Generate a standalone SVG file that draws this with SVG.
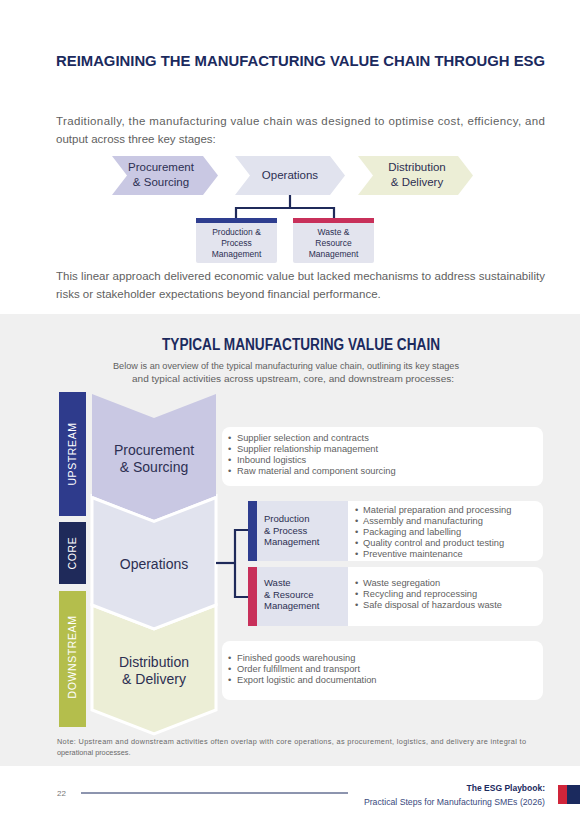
<svg xmlns="http://www.w3.org/2000/svg" width="580" height="820" viewBox="0 0 580 820">
<style>
text{font-family:"Liberation Sans",Arial,sans-serif}
.h1{font-size:15px;font-weight:bold;fill:#1b2a5e}
.body{font-size:11.5px;fill:#5f5f5f}
.chev{font-size:11.5px;fill:#2c2f52;text-anchor:middle}
.small{font-size:8.5px;fill:#2c2f52;text-anchor:middle}
.big{font-size:14px;fill:#2c2f52;text-anchor:middle}
.vert{font-size:10.5px;fill:#ffffff;text-anchor:middle;letter-spacing:0.6px}
.bul{font-size:9.3px;fill:#5f5f5f}
.lab{font-size:9.5px;fill:#2c2f52}
.sub{font-size:9.2px;fill:#5f5f5f;text-anchor:middle}
.note{font-size:7.3px;fill:#6a6a6a}
.conn{fill:none;stroke:#1f2a5a;stroke-width:2.2}
.proc{fill:#c9c8e3}
.ops{fill:#e1e3ee}
.dist{fill:#eceed6}
</style>
<rect width="580" height="820" fill="#ffffff"/>
<text class="h1" x="56" y="66" textLength="489" lengthAdjust="spacingAndGlyphs">REIMAGINING THE MANUFACTURING VALUE CHAIN THROUGH ESG</text>
<text class="body" x="56" y="125" textLength="489" lengthAdjust="spacing">Traditionally, the manufacturing value chain was designed to optimise cost, efficiency, and</text>
<text class="body" x="56" y="143">output across three key stages:</text>

<g id="top-procurement">
<polygon class="proc" points="112,156 203,156 218,175.5 203,195 112,195 127,175.5"/>
<text class="chev" x="161" y="171">Procurement</text>
<text class="chev" x="161" y="186">&amp; Sourcing</text>
</g>
<g id="top-operations">
<polygon class="ops" points="235,156 330,156 345,175.5 330,195 235,195 250,175.5"/>
<text class="chev" x="290" y="179">Operations</text>
</g>
<g id="top-distribution">
<polygon class="dist" points="358,156 458,156 473,175.5 458,195 358,195 373,175.5"/>
<text class="chev" x="417" y="171">Distribution</text>
<text class="chev" x="417" y="186">&amp; Delivery</text>
</g>
<g id="top-production">
<rect x="196" y="218" width="81" height="45" rx="2" fill="#e3e4ee"/>
<rect x="196" y="218" width="81" height="5" fill="#2e3d8f"/>
<text class="small" x="236.5" y="235">Production &amp;</text>
<text class="small" x="236.5" y="246">Process</text>
<text class="small" x="236.5" y="257">Management</text>
</g>
<g id="top-waste">
<rect x="293" y="218" width="81" height="45" rx="2" fill="#e3e4ee"/>
<rect x="293" y="218" width="81" height="5" fill="#c8305a"/>
<text class="small" x="333.5" y="235">Waste &amp;</text>
<text class="small" x="333.5" y="246">Resource</text>
<text class="small" x="333.5" y="257">Management</text>
</g>

<text class="body" x="56" y="280" textLength="489" lengthAdjust="spacing">This linear approach delivered economic value but lacked mechanisms to address sustainability</text>
<text class="body" x="56" y="298">risks or stakeholder expectations beyond financial performance.</text>

<rect x="0" y="314" width="580" height="452" fill="#f0f0f0"/>
<text class="h1" x="162" y="350" textLength="278" lengthAdjust="spacingAndGlyphs" style="font-size:16px">TYPICAL MANUFACTURING VALUE CHAIN</text>
<text class="sub" x="286" y="369" textLength="346" lengthAdjust="spacingAndGlyphs">Below is an overview of the typical manufacturing value chain, outlining its key stages</text>
<text class="sub" x="293" y="382" textLength="322" lengthAdjust="spacingAndGlyphs">and typical activities across upstream, core, and downstream processes:</text>

<g id="bar-upstream">
<rect x="59" y="392" width="27" height="124" fill="#2e3b8c"/>
<text class="vert" transform="translate(76,454) rotate(-90)">UPSTREAM</text>
</g>
<g id="bar-core">
<rect x="59" y="522" width="27" height="62" fill="#1f2a5a"/>
<text class="vert" transform="translate(76,553) rotate(-90)">CORE</text>
</g>
<g id="bar-downstream">
<rect x="59" y="591" width="27" height="136" fill="#b4be4c"/>
<text class="vert" transform="translate(76,657) rotate(-90)">DOWNSTREAM</text>
</g>

<g id="distribution">
<polygon class="dist" stroke="#ffffff" stroke-width="3" points="92,605 154,629 216,605 216,710 154,734 92,710"/>
<text class="big" x="154" y="667">Distribution</text>
<text class="big" x="154" y="684">&amp; Delivery</text>
</g>
<g id="operations">
<polygon class="ops" stroke="#ffffff" stroke-width="3" points="92,496 154,520 216,496 216,605 154,629 92,605"/>
<text class="big" x="154" y="569">Operations</text>
</g>
<g id="procurement">
<polygon class="proc" points="92,394 154,418 216,394 216,496 154,520 92,496"/>
<polyline fill="none" stroke="#ffffff" stroke-width="3" points="92,497.5 154,521.5 216,497.5"/>
<text class="big" x="154" y="455">Procurement</text>
<text class="big" x="154" y="472">&amp; Sourcing</text>
</g>

<g id="procurement-activities">
<rect x="222" y="427" width="321" height="59" rx="8" fill="#ffffff"/>
<text class="bul"><tspan x="228" y="441">•</tspan><tspan x="237" y="441">Supplier selection and contracts</tspan><tspan x="228" y="452">•</tspan><tspan x="237" y="452">Supplier relationship management</tspan><tspan x="228" y="463">•</tspan><tspan x="237" y="463">Inbound logistics</tspan><tspan x="228" y="474">•</tspan><tspan x="237" y="474">Raw material and component sourcing</tspan></text>
</g>

<g id="production">
<rect x="340" y="501" width="203" height="60" rx="8" fill="#ffffff"/>
<rect x="257" y="501" width="91" height="60" fill="#e1e3ee"/>
<rect x="248" y="501" width="9" height="60" fill="#2e3d8f"/>
<text class="lab"><tspan x="264" y="522">Production</tspan><tspan x="264" y="533.5">&amp; Process</tspan><tspan x="264" y="545">Management</tspan></text>
<text class="bul"><tspan x="355" y="513">•</tspan><tspan x="363" y="513">Material preparation and processing</tspan><tspan x="355" y="524">•</tspan><tspan x="363" y="524">Assembly and manufacturing</tspan><tspan x="355" y="535">•</tspan><tspan x="363" y="535">Packaging and labelling</tspan><tspan x="355" y="546">•</tspan><tspan x="363" y="546">Quality control and product testing</tspan><tspan x="355" y="557">•</tspan><tspan x="363" y="557">Preventive maintenance</tspan></text>
</g>
<g id="waste">
<rect x="340" y="567" width="203" height="59" rx="8" fill="#ffffff"/>
<rect x="257" y="567" width="91" height="59" fill="#e1e3ee"/>
<rect x="248" y="567" width="9" height="59" fill="#c8305a"/>
<text class="lab"><tspan x="264" y="586">Waste</tspan><tspan x="264" y="597.5">&amp; Resource</tspan><tspan x="264" y="609">Management</tspan></text>
<text class="bul"><tspan x="355" y="586">•</tspan><tspan x="363" y="586">Waste segregation</tspan><tspan x="355" y="597">•</tspan><tspan x="363" y="597">Recycling and reprocessing</tspan><tspan x="355" y="608">•</tspan><tspan x="363" y="608">Safe disposal of hazardous waste</tspan></text>
</g>

<g id="distribution-activities">
<rect x="222" y="641" width="321" height="59" rx="8" fill="#ffffff"/>
<text class="bul"><tspan x="228" y="661">•</tspan><tspan x="237" y="661">Finished goods warehousing</tspan><tspan x="228" y="672">•</tspan><tspan x="237" y="672">Order fulfillment and transport</tspan><tspan x="228" y="683">•</tspan><tspan x="237" y="683">Export logistic and documentation</tspan></text>
</g>

<g id="connectors">
<polyline class="conn" points="290,195 290,208"/>
<polyline class="conn" points="236,218 236,208 334,208 334,218"/>
<polyline class="conn" points="216,563 235,563"/>
<polyline class="conn" points="248,530 235,530 235,597 248,597"/>
</g>

<text class="note" x="57" y="744" textLength="469" lengthAdjust="spacing">Note: Upstream and downstream activities often overlap with core operations, as procurement, logistics, and delivery are integral to</text>
<text class="note" x="57" y="755">operational processes.</text>

<g id="footer">
<text x="57" y="796" style="font-size:8px;fill:#777">22</text>
<line x1="81" y1="793" x2="348" y2="793" stroke="#1b2a5e" stroke-width="1"/>
<text x="545" y="791" text-anchor="end" style="font-size:8.5px;font-weight:bold;fill:#1b2a5e">The ESG Playbook:</text>
<text x="545" y="805" text-anchor="end" style="font-size:8.7px;fill:#3a4a7e">Practical Steps for Manufacturing SMEs (2026)</text>
<rect x="558" y="785" width="9" height="19" fill="#d0253a"/>
<rect x="567" y="785" width="13" height="19" fill="#1b2a5e"/>
</g>
</svg>
